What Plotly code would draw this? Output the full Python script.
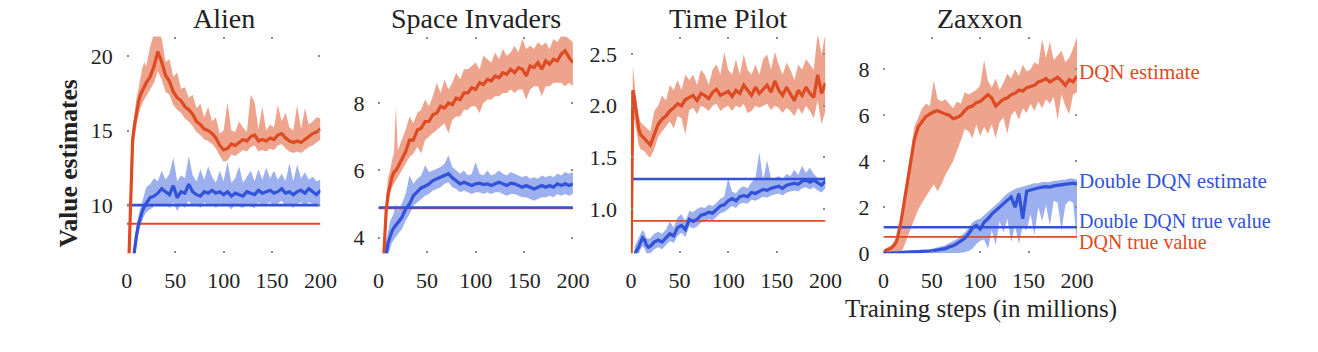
import plotly.graph_objects as go

# ---------------- data ----------------
X = [0, 2, 4, 6, 8, 10, 12, 14, 16, 18, 20, 24, 28, 32, 36, 40, 44, 48, 52, 56, 60, 64, 68, 72, 76,
     80, 84, 88, 92, 96, 100, 104, 108, 112, 116, 120, 124, 128, 132, 136, 140, 144, 148, 152, 156,
     160, 164, 168, 172, 176, 180, 184, 188, 192, 196, 200]
x_ticks = [0, 50, 100, 150, 200]
titles = ["Alien", "Space Invaders", "Time Pilot", "Zaxxon"]

# Alien
alien_dqn = [2.0, 6.0, 11.5, 14.4, 15.4, 16.3, 16.9, 17.4, 17.7, 17.9, 18.2,
             18.6, 19.3, 20.3, 19.6, 18.7, 18.3, 17.6, 17.2, 17.0, 16.6, 16.4, 16.1, 15.6, 15.4, 15.1,
             15.0, 14.8, 14.5, 14.0, 13.7, 13.8, 14.1, 14.0, 14.2, 14.4, 14.3, 14.6, 14.7, 14.3, 14.4,
             14.3, 14.5, 14.4, 14.7, 14.8, 14.5, 14.3, 14.2, 14.3, 14.2, 14.4, 14.6, 14.8, 14.9, 15.1]
alien_dqn_hi = [3, 8, 13, 15.2, 16.2, 17.2, 17.8, 18.6, 19.2, 19.6, 19.3,
                20.6, 21.5, 21.5, 21.2, 19.6, 19.8, 18.6, 18.9, 17.8, 17.9, 17.2, 17.4, 16.5, 16.8, 15.9,
                16.6, 15.6, 15.9, 14.8, 15.0, 16.9, 15.0, 14.9, 15.6, 15.2, 14.9, 17.4, 16.9, 15.1, 16.6,
                15.0, 15.4, 15.2, 16.7, 15.6, 16.2, 15.2, 15.0, 16.7, 15.1, 16.5, 15.4, 15.6, 15.9, 15.8]
alien_dqn_lo = [0, 4, 10, 13.4, 14.5, 15.4, 16.0, 16.5, 16.8, 17.1, 17.3,
                17.7, 18.2, 19.0, 18.4, 17.6, 17.4, 16.7, 16.4, 16.2, 15.8, 15.6, 15.3, 14.9, 14.7, 14.4,
                14.3, 14.1, 13.8, 13.3, 12.9, 13.0, 13.4, 13.3, 13.5, 13.7, 13.6, 13.9, 14.0, 13.6, 13.7,
                13.6, 13.8, 13.7, 14.0, 14.1, 13.8, 13.6, 13.5, 13.6, 13.5, 13.7, 13.9, 14.0, 14.2, 14.4]
alien_ddqn = [3, 4, 5, 6.2, 7.3, 8.0, 8.7, 9.2, 9.6, 9.9, 10.1,
              10.5, 10.6, 10.8, 11.1, 10.9, 10.7, 11.3, 10.5, 10.9, 10.8, 11.4, 10.9, 10.7, 10.6, 10.9,
              10.8, 11.0, 10.8, 10.9, 10.7, 10.9, 10.6, 10.8, 10.7, 10.6, 10.9, 10.8, 10.7, 11.0, 10.8,
              10.9, 11.0, 10.8, 10.9, 11.1, 10.8, 10.9, 10.7, 10.9, 11.0, 10.8, 11.1, 10.9, 10.7, 11.0]
alien_ddqn_hi = [3.5, 4.5, 5.5, 6.8, 7.8, 8.6, 9.3, 9.8, 10.3, 10.8, 11.2,
                 11.4, 11.8, 11.6, 12.3, 11.7, 12.1, 13.2, 11.6, 12.0, 11.8, 13.3, 12.0, 11.6, 12.4, 11.7,
                 12.6, 11.9, 11.5, 12.3, 11.6, 12.9, 11.5, 11.8, 12.6, 11.5, 11.9, 12.3, 11.6, 12.4, 11.7,
                 12.5, 11.8, 12.3, 11.7, 12.1, 11.6, 12.8, 11.6, 12.7, 11.8, 12.2, 11.7, 11.9, 11.6, 11.7]
alien_ddqn_lo = [2, 3, 4.5, 5.6, 6.7, 7.4, 8.1, 8.6, 9.0, 9.3, 9.5,
                 9.7, 9.9, 10.1, 9.9, 10.1, 9.8, 10.2, 9.6, 10.1, 9.8, 10.3, 9.9, 10.0, 9.8, 10.2,
                 9.9, 10.1, 9.8, 10.1, 9.9, 10.0, 9.7, 10.1, 9.9, 9.8, 10.1, 9.9, 9.8, 10.2, 9.9,
                 10.1, 10.2, 9.9, 10.1, 10.3, 9.9, 10.0, 9.8, 10.1, 10.2, 9.9, 10.2, 10.1, 9.9, 10.2]
alien_true = {"dqn": 8.75, "ddqn": 10.0}

# Space Invaders
si_dqn = [0.5, 1.5, 2.5, 3.4, 4.8, 5.3, 5.6, 5.8, 5.95, 6.0, 6.1,
          6.35, 6.55, 6.9, 6.9, 7.2, 7.25, 7.45, 7.45, 7.65, 7.7, 7.9, 7.85, 8.0, 7.95, 8.15,
          8.1, 8.3, 8.3, 8.45, 8.4, 8.6, 8.55, 8.7, 8.65, 8.8, 8.75, 8.9, 8.85, 9.0, 8.9,
          9.05, 9.0, 8.8, 9.1, 9.05, 9.2, 9.0, 9.25, 9.15, 9.3, 9.25, 9.45, 9.55, 9.35, 9.2]
si_dqn_hi = [1, 2, 3, 4, 5.2, 5.8, 6.0, 6.3, 6.5, 7.9, 6.6,
             6.9, 7.2, 7.6, 7.4, 7.7, 7.8, 8.1, 7.9, 8.2, 8.6, 8.3, 8.7, 8.4, 8.6, 8.9,
             8.7, 9.0, 9.0, 9.1, 9.2, 9.0, 9.4, 9.3, 9.2, 9.5, 9.3, 9.6, 9.4, 9.5, 9.7,
             9.5, 9.9, 9.6, 9.7, 9.6, 9.8, 9.7, 9.8, 9.6, 9.9, 9.8, 10.0, 10.0, 9.9, 9.8]
si_dqn_lo = [0, 1, 2, 3, 4.4, 5.0, 5.3, 5.5, 5.6, 5.7, 5.8,
             6.0, 6.2, 6.4, 6.5, 6.7, 6.5, 6.9, 7.0, 7.1, 7.2, 7.3, 7.4, 7.1, 7.5, 7.6,
             7.6, 7.8, 7.8, 7.9, 7.9, 7.7, 8.0, 8.1, 8.1, 8.2, 8.2, 8.3, 8.3, 8.4, 8.3,
             8.4, 8.4, 8.1, 8.4, 8.5, 8.5, 8.2, 8.5, 8.5, 8.6, 8.6, 8.6, 8.5, 8.6, 8.5]
si_ddqn = [0.5, 1.2, 2.0, 2.9, 3.5, 3.85, 4.05, 4.2, 4.3, 4.38, 4.44,
           4.6, 4.85, 5.0, 5.25, 5.38, 5.48, 5.53, 5.6, 5.7, 5.75, 5.8, 5.86, 5.9, 5.78, 5.7,
           5.6, 5.65, 5.6, 5.55, 5.6, 5.62, 5.58, 5.6, 5.55, 5.6, 5.65, 5.6, 5.55, 5.62, 5.6,
           5.55, 5.5, 5.55, 5.5, 5.45, 5.5, 5.55, 5.5, 5.55, 5.5, 5.6, 5.55, 5.6, 5.55, 5.6]
si_ddqn_hi = [1.0, 1.7, 2.5, 3.4, 3.9, 4.2, 4.5, 4.6, 4.75, 5.0, 4.8,
              5.0, 5.3, 5.85, 5.6, 5.75, 5.85, 6.15, 5.95, 6.0, 6.05, 6.1, 6.2, 6.45, 6.1, 6.0,
              5.9, 6.0, 5.85, 5.9, 6.25, 5.9, 5.85, 6.0, 5.85, 5.9, 6.0, 5.9, 5.85, 5.95, 5.9,
              5.85, 5.8, 5.85, 5.75, 5.8, 5.75, 5.85, 5.8, 5.85, 5.8, 5.9, 5.85, 5.95, 5.9, 5.95]
si_ddqn_lo = [0.2, 0.8, 1.6, 2.5, 3.1, 3.5, 3.7, 3.85, 3.95, 4.05, 4.1,
              4.25, 4.5, 4.7, 4.95, 5.05, 5.15, 5.25, 5.3, 5.4, 5.45, 5.5, 5.6, 5.65, 5.5, 5.45,
              5.35, 5.4, 5.35, 5.3, 5.35, 5.35, 5.3, 5.35, 5.3, 5.35, 5.35, 5.3, 5.25, 5.3, 5.3,
              5.25, 5.2, 5.2, 5.15, 5.1, 5.15, 5.2, 5.2, 5.25, 5.2, 5.3, 5.25, 5.3, 5.25, 5.3]
si_true = {"dqn": 4.87, "ddqn": 4.9}

# Time Pilot
tp_dqn = [0.3, 2.15, 2.05, 1.9, 1.78, 1.72, 1.7, 1.69, 1.67, 1.64, 1.62,
          1.72, 1.82, 1.87, 1.9, 1.95, 1.98, 2.02, 2.0, 2.06, 2.08, 2.1, 2.05, 2.12, 2.1, 2.07,
          2.13, 2.16, 2.1, 2.12, 2.14, 2.09, 2.15, 2.12, 2.2, 2.15, 2.1, 2.18, 2.12, 2.16, 2.2,
          2.13, 2.24, 2.15, 2.1, 2.18, 2.12, 2.05, 2.15, 2.1, 2.18, 2.12, 2.08, 2.3, 2.12, 2.22]
tp_dqn_hi = [0.5, 2.38, 2.2, 2.0, 1.9, 1.84, 1.82, 1.8, 1.78, 1.76, 1.75,
             1.95, 2.0, 2.1, 2.05, 2.2, 2.15, 2.25, 2.15, 2.3, 2.25, 2.3, 2.2, 2.35, 2.3, 2.2,
             2.35, 2.4, 2.3, 2.52, 2.35, 2.3, 2.45, 2.3, 2.5, 2.35, 2.3, 2.4, 2.3, 2.45, 2.5,
             2.35, 2.52, 2.4, 2.3, 2.42, 2.35, 2.25, 2.4, 2.35, 2.45, 2.4, 2.35, 2.7, 2.5, 2.7]
tp_dqn_lo = [0, 1.9, 1.85, 1.75, 1.62, 1.58, 1.57, 1.56, 1.54, 1.51, 1.5,
             1.58, 1.7, 1.75, 1.8, 1.85, 1.78, 1.9, 1.88, 1.72, 1.96, 1.98, 1.92, 2.0, 1.98, 1.95,
             2.0, 2.02, 1.95, 1.98, 2.0, 1.95, 2.0, 1.98, 2.02, 1.93, 1.95, 2.0, 1.98, 2.0, 2.02,
             1.96, 2.0, 1.98, 1.93, 1.98, 1.95, 1.9, 1.98, 1.92, 2.0, 1.95, 1.88, 2.05, 1.82, 1.95]
tp_ddqn = [0.2, 0.35, 0.56, 0.6, 0.63, 0.68, 0.72, 0.7, 0.65, 0.63, 0.64,
           0.68, 0.7, 0.68, 0.72, 0.76, 0.74, 0.82, 0.84, 0.8, 0.9, 0.88, 0.9, 0.94, 0.95, 0.97,
           0.96, 0.99, 1.03, 1.04, 1.08, 1.1, 1.08, 1.12, 1.13, 1.12, 1.16, 1.15, 1.17, 1.19, 1.18,
           1.2, 1.21, 1.22, 1.2, 1.23, 1.24, 1.25, 1.24, 1.27, 1.28, 1.26, 1.28, 1.25, 1.23, 1.27]
tp_ddqn_hi = [0.3, 0.45, 0.64, 0.68, 0.72, 0.77, 0.8, 0.77, 0.72, 0.71, 0.72,
              0.76, 0.78, 0.76, 0.8, 0.88, 0.82, 0.92, 0.95, 0.88, 0.98, 0.97, 1.0, 1.02, 1.01, 1.04,
              1.03, 1.06, 1.1, 1.12, 1.3, 1.17, 1.15, 1.2, 1.22, 1.2, 1.26, 1.3, 1.55, 1.28, 1.47,
              1.3, 1.3, 1.32, 1.29, 1.34, 1.32, 1.38, 1.33, 1.42, 1.35, 1.4, 1.34, 1.3, 1.29, 1.32]
tp_ddqn_lo = [0.1, 0.25, 0.48, 0.52, 0.56, 0.61, 0.64, 0.62, 0.57, 0.56, 0.57,
              0.61, 0.63, 0.61, 0.65, 0.69, 0.67, 0.74, 0.77, 0.73, 0.83, 0.81, 0.83, 0.87, 0.88, 0.9,
              0.89, 0.92, 0.96, 0.97, 1.0, 1.03, 1.01, 1.05, 1.06, 1.05, 1.09, 1.08, 1.1, 1.12, 1.11,
              1.13, 1.14, 1.15, 1.13, 1.16, 1.17, 1.18, 1.17, 1.2, 1.21, 1.19, 1.21, 1.18, 1.16, 1.2]
tp_true = {"dqn": 0.885, "ddqn": 1.29}

# Zaxxon
zx_dqn = [0.0, 0.12, 0.15, 0.18, 0.22, 0.3, 0.4, 0.58, 0.9, 1.35, 1.85,
          2.85, 3.85, 4.95, 5.5, 5.75, 5.95, 6.05, 6.15, 6.2, 6.12, 6.05, 6.0, 5.85, 5.9, 6.0,
          6.2, 6.35, 6.4, 6.55, 6.6, 6.75, 6.9, 6.75, 6.4, 6.55, 6.7, 6.75, 6.9, 6.95, 7.1,
          7.05, 7.2, 7.25, 7.3, 7.45, 7.5, 7.6, 7.45, 7.55, 7.65, 7.5, 7.3, 7.55, 7.45, 7.7]
zx_dqn_hi = [0.05, 0.2, 0.25, 0.3, 0.35, 0.45, 0.55, 0.8, 1.1, 1.55, 2.1,
             3.2, 4.3, 5.5, 5.9, 6.3, 6.5, 6.4, 7.5, 6.7, 6.6, 6.7, 6.5, 6.3, 6.6, 6.5,
             7.0, 6.9, 7.0, 7.1, 7.3, 8.4, 7.5, 7.2, 7.6, 7.1, 7.4, 7.8, 7.6, 8.0, 7.7,
             8.2, 7.9, 8.0, 8.3, 8.2, 9.3, 8.5, 9.2, 8.4, 8.6, 8.8, 8.3, 8.5, 8.9, 9.4]
zx_dqn_lo = [0, 0, 0, 0, 0, 0, 0.02, 0.05, 0.08, 0.12, 0.17,
             0.6, 1.05, 1.5, 1.9, 2.2, 2.5, 2.75, 3.0, 2.7, 3.0, 3.4, 3.7, 4.0, 4.4, 4.9,
             5.4, 5.3, 5.0, 5.6, 5.1, 5.5, 5.2, 5.6, 5.0, 5.7, 5.9, 5.2, 6.0, 6.2, 5.8,
             6.3, 6.1, 6.5, 6.2, 6.6, 6.3, 6.7, 6.5, 6.8, 5.8, 6.9, 6.4, 6.06, 6.9, 7.0]
zx_ddqn = [0, 0, 0, 0.01, 0.02, 0.02, 0.03, 0.03, 0.03, 0.04, 0.04,
           0.05, 0.05, 0.06, 0.07, 0.08, 0.08, 0.1, 0.12, 0.15, 0.18, 0.2, 0.28, 0.33, 0.42, 0.52,
           0.65, 0.85, 1.1, 1.22, 1.05, 1.35, 1.5, 1.7, 1.85, 2.0, 2.15, 2.3, 2.45, 2.0, 2.6,
           1.5, 2.7, 2.75, 2.8, 2.85, 2.88, 2.9, 2.88, 2.93, 2.95, 2.98, 3.0, 3.02, 3.05, 3.0]
zx_ddqn_hi = [0.02, 0.03, 0.04, 0.05, 0.06, 0.06, 0.07, 0.07, 0.08, 0.08, 0.09,
              0.1, 0.1, 0.12, 0.13, 0.15, 0.16, 0.18, 0.22, 0.26, 0.3, 0.35, 0.45, 0.52, 0.62, 0.75,
              0.9, 1.1, 1.35, 1.45, 1.5, 1.65, 1.8, 1.95, 2.1, 2.25, 2.45, 2.6, 2.7, 2.8, 2.85,
              2.9, 2.95, 3.0, 3.05, 3.05, 3.1, 3.1, 3.1, 3.15, 3.15, 3.2, 3.2, 3.25, 3.25, 3.2]
zx_ddqn_lo = [0, 0, 0, 0, 0, 0, 0, 0, 0, 0, 0,
              0, 0, 0, 0, 0, 0, 0, 0, 0, 0, 0, 0, 0, 0, 0.02,
              0.05, 0.1, 0.2, 0.4, 0.55, 0.6, 0.2, 1.0, 0.35, 1.4, 0.9, 1.5, 0.5, 1.2, 0.4,
              1.2, 1.0, 1.7, 0.8, 2.0, 1.4, 2.1, 1.2, 2.3, 2.2, 1.0, 2.1, 2.3, 2.2, 0.5]
zx_true = {"dqn": 0.71, "ddqn": 1.13}

panels = [
    dict(dqn=alien_dqn, dqn_hi=alien_dqn_hi, dqn_lo=alien_dqn_lo,
         ddqn=alien_ddqn, ddqn_hi=alien_ddqn_hi, ddqn_lo=alien_ddqn_lo, true=alien_true,
         yrange=[6.77, 21.3], yticks=[10, 15, 20], fmt="d"),
    dict(dqn=si_dqn, dqn_hi=si_dqn_hi, dqn_lo=si_dqn_lo,
         ddqn=si_ddqn, ddqn_hi=si_ddqn_hi, ddqn_lo=si_ddqn_lo, true=si_true,
         yrange=[3.54, 9.97], yticks=[4, 6, 8], fmt="d"),
    dict(dqn=tp_dqn, dqn_hi=tp_dqn_hi, dqn_lo=tp_dqn_lo,
         ddqn=tp_ddqn, ddqn_hi=tp_ddqn_hi, ddqn_lo=tp_ddqn_lo, true=tp_true,
         yrange=[0.571, 2.67], yticks=[1.0, 1.5, 2.0, 2.5], fmt=".1f"),
    dict(dqn=zx_dqn, dqn_hi=zx_dqn_hi, dqn_lo=zx_dqn_lo,
         ddqn=zx_ddqn, ddqn_hi=zx_ddqn_hi, ddqn_lo=zx_ddqn_lo, true=zx_true,
         yrange=[0, 9.42], yticks=[0, 2, 4, 6, 8], fmt="d"),
]

for p in panels:
    for k in ("dqn", "dqn_hi", "dqn_lo", "ddqn", "ddqn_hi", "ddqn_lo"):
        assert len(p[k]) == len(X), (k, len(p[k]))

# ---------------- style ----------------
W, H = 1318, 352
RED = "rgb(222,74,34)"
RED_BAND = "rgb(238,163,140)"
BLUE = "rgb(50,82,218)"
BLUE_BAND = "rgb(156,175,238)"
FONT = "Liberation Serif"
TXT = "#222222"

px_domains = [(123, 320), (379, 577), (636, 834), (893, 1090)]
y_dom = [1 - 263 / H, 1 - 38 / H]

fig = go.Figure()
layout = dict(width=W, height=H, margin=dict(l=0, r=0, t=0, b=0),
              paper_bgcolor="white", plot_bgcolor="white", showlegend=False,
              annotations=[])

for i, p in enumerate(panels):
    n = "" if i == 0 else str(i + 1)
    xa, ya = "x" + n, "y" + n
    common = dict(xaxis=xa, yaxis=ya, hoverinfo="skip")
    # bands
    fig.add_trace(go.Scatter(x=X + X[::-1], y=p["dqn_hi"] + p["dqn_lo"][::-1], fill="toself",
                             fillcolor=RED_BAND, line=dict(width=0), mode="lines", **common))
    fig.add_trace(go.Scatter(x=X + X[::-1], y=p["ddqn_hi"] + p["ddqn_lo"][::-1], fill="toself",
                             fillcolor=BLUE_BAND, line=dict(width=0), mode="lines", **common))
    # true values
    fig.add_trace(go.Scatter(x=[0, 200], y=[p["true"]["dqn"]] * 2, mode="lines",
                             line=dict(color=RED, width=1.8), **common))
    fig.add_trace(go.Scatter(x=[0, 200], y=[p["true"]["ddqn"]] * 2, mode="lines",
                             line=dict(color=BLUE, width=2.6), **common))
    # estimates
    fig.add_trace(go.Scatter(x=X, y=p["dqn"], mode="lines",
                             line=dict(color=RED, width=3.2), **common))
    fig.add_trace(go.Scatter(x=X, y=p["ddqn"], mode="lines",
                             line=dict(color=BLUE, width=3.2), **common))

    d0, d1 = px_domains[i]
    axis_common = dict(showgrid=False, zeroline=False, showline=False,
                       ticks="inside", ticklen=2, tickwidth=1.5, tickcolor="#8a8a8a",
                       mirror="ticks",
                       tickfont=dict(family=FONT, size=22, color=TXT))
    layout["xaxis" + n] = dict(domain=[d0 / W, d1 / W], range=[0, 200], anchor=ya,
                               tickvals=x_ticks, ticklabelstandoff=12, **axis_common)
    layout["yaxis" + n] = dict(domain=y_dom, range=p["yrange"], anchor=xa,
                               tickvals=p["yticks"], tickformat=p["fmt"],
                               ticklabelstandoff=13, **axis_common)
    layout["annotations"].append(dict(text=titles[i], x=(d0 + d1) / 2 / W, y=1 - 19 / H,
                                      xref="paper", yref="paper", showarrow=False,
                                      xanchor="center", yanchor="middle",
                                      font=dict(family=FONT, size=28, color=TXT)))

layout["annotations"].append(dict(text="<b>Value estimates</b>", x=64 / W, y=1 - 170 / H,
                                  xref="paper", yref="paper", showarrow=False, textangle=-90,
                                  xanchor="center", yanchor="middle",
                                  font=dict(family=FONT, size=25.5, color=TXT)))
layout["annotations"].append(dict(text="Training steps (in millions)", x=992 / W, y=1 - 321 / H,
                                  xref="paper", yref="paper", showarrow=False,
                                  xanchor="center", yanchor="middle",
                                  font=dict(family=FONT, size=25, color=TXT)))

series_labels = [("DQN estimate", 75, RED, 21), ("Double DQN estimate", 188, BLUE, 21),
                 ("Double DQN true value", 229, BLUE, 20), ("DQN true value", 251, RED, 20)]
for txt, ypx, col, fs in series_labels:
    layout["annotations"].append(dict(text=txt, x=1090 / W, y=1 - ypx / H,
                                      xref="paper", yref="paper", showarrow=False,
                                      xanchor="left", yanchor="middle",
                                      font=dict(family=FONT, size=fs, color=col)))

fig.update_layout(**layout)
fig.write_html("out.html")
